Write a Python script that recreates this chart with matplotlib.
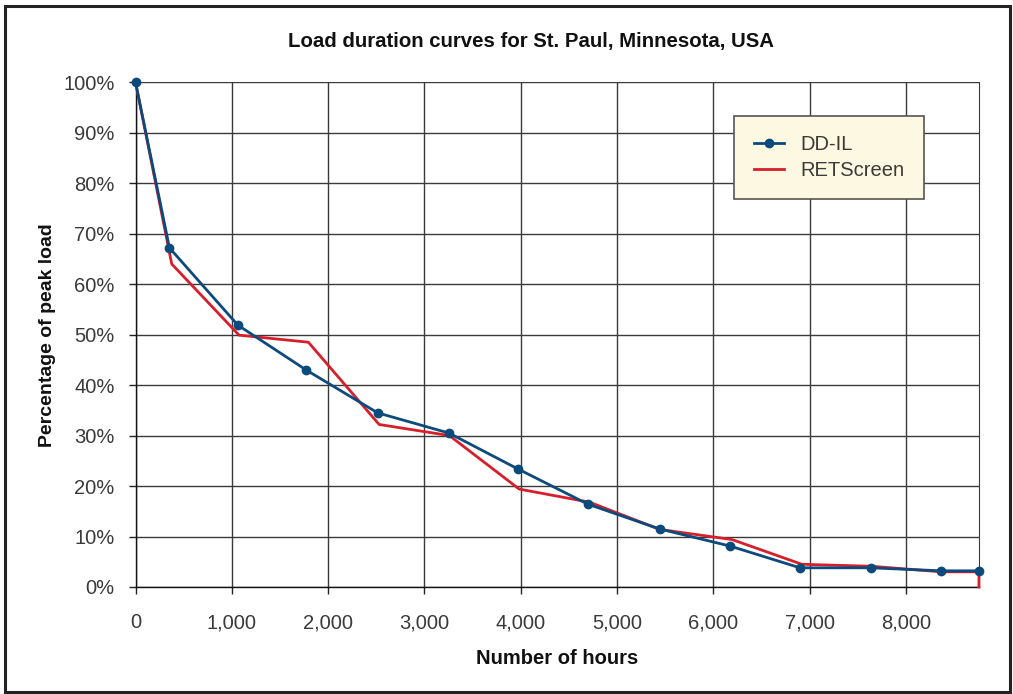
import numpy as np
import matplotlib
matplotlib.use('Agg')
import matplotlib.pyplot as plt
from matplotlib.patches import Rectangle
from matplotlib.ticker import FuncFormatter

plt.rcParams['font.family'] = ['Liberation Sans', 'DejaVu Sans']

# data (hours, % of peak load)
ddil_hours = [0, 352, 1062, 1772, 2515, 3255, 3970, 4700, 5442, 6177, 6901, 7635, 8369, 8760]
ddil_load = [100, 67.2, 51.9, 43.0, 34.5, 30.5, 23.4, 16.4, 11.5, 8.1, 3.8, 3.8, 3.2, 3.2]

ret_hours = [0, 376, 1075, 1795, 2530, 3260, 3985, 4715, 5445, 6195, 6920, 7650, 8370, 8760, 8760]
ret_load = [100, 64.0, 49.9, 48.5, 32.2, 30.0, 19.4, 16.8, 11.4, 9.4, 4.5, 4.1, 3.0, 3.0, 0]

xticks = [0, 1000, 2000, 3000, 4000, 5000, 6000, 7000, 8000]
yticks = [0, 10, 20, 30, 40, 50, 60, 70, 80, 90, 100]

blue = '#0b4a7c'
red = '#d61f2b'
txt = '#3a3a3a'

fig = plt.figure(figsize=(10.13, 6.94), dpi=100)
ax = fig.add_axes([0.1338, 0.1542, 0.8326, 0.7272])

ax.plot(ret_hours, ret_load, color=red, lw=2.0, label='RETScreen', zorder=3, clip_on=False)
ax.plot(ddil_hours, ddil_load, color=blue, lw=2.0, marker='o', markersize=6,
        label='DD-IL', zorder=4, clip_on=False)

ax.set_xlim(0, 8760)
ax.set_ylim(0, 100)
ax.set_xticks(xticks)
ax.set_yticks(yticks)
ax.xaxis.set_major_formatter(FuncFormatter(lambda v, p: f'{int(v):,}'))
ax.yaxis.set_major_formatter(FuncFormatter(lambda v, p: f'{int(v)}%'))
ax.tick_params(axis='both', direction='out', length=5, width=1, color='#222222',
               labelsize=14.5, labelcolor=txt)
ax.tick_params(axis='x', pad=14)
ax.tick_params(axis='y', pad=10)

ax.grid(True, color='#3a3a3a', lw=1)
ax.set_axisbelow(True)
ax.spines['top'].set_visible(False)
ax.spines['right'].set_color('#3a3a3a')
for s in ['left', 'bottom']:
    ax.spines[s].set_color('#111111')
    ax.spines[s].set_linewidth(1)

ax.set_xlabel('Number of hours', fontsize=14.5, fontweight='bold', color='#111111', labelpad=12)
ax.set_ylabel('Percentage of peak load', fontsize=14, fontweight='bold', color='#111111', labelpad=5.5)

fig.text(531 / 1013, 1 - 41 / 694, 'Load duration curves for St. Paul, Minnesota, USA',
         ha='center', va='center', fontsize=14.7, fontweight='bold', color='#111111')

h, l = ax.get_legend_handles_labels()
leg = ax.legend(h[::-1], l[::-1], loc='upper left', bbox_to_anchor=(0.710, 0.933),
                fontsize=14.5, frameon=True, fancybox=False, handlelength=1.5,
                borderpad=0.95, labelspacing=0.35, handletextpad=0.85, borderaxespad=0)
leg.get_frame().set_facecolor('#fdf8e2')
leg.get_frame().set_edgecolor('#555555')
leg.get_frame().set_linewidth(1.2)
leg.get_frame().set_alpha(1)
for t in leg.get_texts():
    t.set_color(txt)

fig.patches.append(Rectangle((4.5 / 1013, 1 - 692 / 694), 1005.5 / 1013, 686 / 694,
                             transform=fig.transFigure, fill=False, lw=2.2,
                             edgecolor='#222222'))

plt.savefig('out.png', dpi=100)
